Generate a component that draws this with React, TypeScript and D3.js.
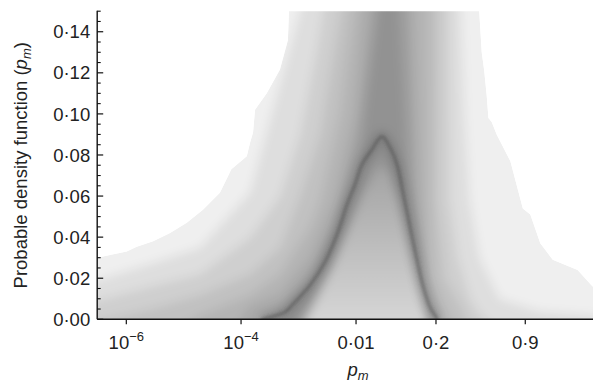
import React from 'react';
import * as d3 from 'd3';

// x tick positions (probabilities, logit axis) and labels
const xTickProbs = [1e-6, 1e-4, 0.01, 0.2, 0.9];
const xTickBase = ['10', '10', '0·01', '0·2', '0·9'];
const xTickExp = ['−6', '−4', '', '', ''];

// y ticks
const yMajorTicks = [0, 0.02, 0.04, 0.06, 0.08, 0.1, 0.12, 0.14];
const yMajorLabels = ['0·00', '0·02', '0·04', '0·06', '0·08', '0·10', '0·12', '0·14'];

// outer envelope of the density curves: [logit(p), density]
const envelope: [number, number][] = [
  [-16, -0.02], [-16, 0.029], [-15, 0.03], [-13.8, 0.033], [-13.4, 0.0353], [-12.74, 0.038],
  [-12.06, 0.042], [-11.39, 0.047], [-10.74, 0.0533], [-10.06, 0.0616], [-9.6, 0.073],
  [-8.98, 0.0794], [-8.85, 0.086], [-8.73, 0.091], [-8.65, 0.102], [-8.18, 0.11],
  [-7.65, 0.1216], [-7.33, 0.136], [-7.29, 0.15], [-7.27, 0.17],
  [0.33, 0.17], [0.35, 0.15], [0.45, 0.13], [0.55, 0.121], [0.65, 0.109], [0.72, 0.098],
  [0.85, 0.096], [1.05, 0.09], [1.6, 0.077], [2.1, 0.054], [2.4, 0.051], [2.8, 0.037],
  [3.3, 0.029], [4.3, 0.024], [4.9, 0.016], [5.5, 0.014], [5.5, -0.02],
];

// nested shading levels (upper boundaries), darker inside
const level1: [number, number][] = [
  [-16, 0.018], [-15, 0.019], [-12.87, 0.027], [-10.86, 0.035], [-8.85, 0.062], [-7.65, 0.115],
  [-6.85, 0.15], [-6.44, 0.17], [-0.43, 0.17], [-0.23, 0.1], [-0.03, 0.058], [0.37, 0.03],
  [1.17, 0.01], [2.78, 0.004], [4.9, 0.002], [5.5, 0.002],
];
const level2: [number, number][] = [
  [-16, 0.008], [-15, 0.009], [-12.87, 0.016], [-10.86, 0.022], [-8.85, 0.04], [-7.65, 0.06],
  [-6.85, 0.09], [-6.2, 0.13], [-5.64, 0.17], [-0.83, 0.17], [-0.8, 0.058], [-0.5, 0.03],
  [0.0, 0.01], [0.37, 0.003], [1.0, -0.005],
];
const level3: [number, number][] = [
  [-16, -0.004], [-15, -0.001], [-12.87, 0.005], [-10.86, 0.012], [-8.85, 0.022], [-7.65, 0.035],
  [-6.85, 0.06], [-6.04, 0.09], [-4.96, 0.17], [-1.23, 0.17], [-1.3, 0.058], [-1.0, 0.02],
  [-0.3, 0.005], [0.0, -0.005],
];
const level4: [number, number][] = [
  [-11.8, -0.005], [-10.86, 0.002], [-8.85, 0.012], [-7.65, 0.022], [-6.44, 0.045], [-6.04, 0.058],
  [-5.24, 0.1], [-4.52, 0.17], [-1.64, 0.17], [-1.64, 0.058], [-1.5, 0.02], [-1.0, 0.004],
  [-0.6, -0.005],
];
const level5: [number, number][] = [
  [-9.5, -0.005], [-8.85, 0.006], [-7.65, 0.012], [-6.44, 0.03], [-5.44, 0.058], [-4.64, 0.1],
  [-4.12, 0.17], [-2.32, 0.17], [-2.04, 0.058], [-1.8, 0.02], [-1.5, 0.004], [-1.1, -0.005],
];
const level6: [number, number][] = [
  [-8.7, -0.005], [-7.65, 0.006], [-6.44, 0.02], [-5.5, 0.045], [-4.5, 0.09], [-3.64, 0.17],
  [-2.64, 0.17], [-2.3, 0.07], [-1.9, 0.02], [-1.4, 0.002], [-1.2, -0.005],
];
const level7: [number, number][] = [
  [-8.2, -0.005], [-7.25, 0.005], [-6.2, 0.02], [-4.5, 0.07], [-3.5, 0.17], [-3.0, 0.17],
  [-2.5, 0.06], [-1.7, 0.005], [-1.4, -0.005],
];
const levels = [level1, level2, level3, level4, level5, level6, level7];

// lighter core below the modal ridge
const lightCore: [number, number][] = [
  [-6.9, -0.005], [-6.3, 0.008], [-5.6, 0.025], [-4.9, 0.045], [-4.3, 0.062], [-3.85, 0.072],
  [-3.56, 0.076], [-3.25, 0.071], [-2.85, 0.058], [-2.45, 0.038], [-2.1, 0.02], [-1.85, 0.008],
  [-1.6, -0.005],
];

// dark modal ridge curve
const ridgeL = [-8.4, -7.9, -7.45, -7.05, -6.44, -5.84, -5.32, -4.96, -4.64, -4.36, -3.96, -3.56,
  -3.23, -2.95, -2.71, -2.43, -2.15, -1.9, -1.63, -1.4, -1.3];
const ridgeD = [0.0, 0.0015, 0.0035, 0.0084, 0.0167, 0.028, 0.0426, 0.0558, 0.0656, 0.0753, 0.0826,
  0.089, 0.0836, 0.0753, 0.0616, 0.045, 0.0289, 0.0158, 0.006, 0.0015, 0.0];

const W = 593;
const H = 386;
const logit = (p: number) => Math.log(p / (1 - p));

export default function App() {
  const x = d3.scaleLinear().domain([-15, 5]).range([96.8, 595.1]);
  const y = d3.scaleLinear().domain([0, 0.15]).range([319.3, 11.2]);
  const plotL = 97.2;
  const plotT = 11.2;
  const plotB = 319.3;

  const polyLine = d3.line<[number, number]>().x((d) => x(d[0])).y((d) => y(d[1]));
  const levelArea = d3
    .area<[number, number]>()
    .x((d) => x(d[0]))
    .y0(y(-0.02))
    .y1((d) => y(d[1]));
  const ridgePts: [number, number][] = ridgeL.map((l, i) => [l, ridgeD[i]]);
  const ridgeLine = d3
    .line<[number, number]>()
    .x((d) => x(d[0]))
    .y((d) => y(d[1]))
    .curve(d3.curveCatmullRom.alpha(0.5));

  const minorTicks = d3.range(0, 0.1501, 0.005).filter(
    (v) => !yMajorTicks.some((m) => Math.abs(m - v) < 1e-6)
  );
  const font = '"Liberation Sans", Arial, Helvetica, sans-serif';
  const fs = 18.5;

  return (
    <svg width={W} height={H} style={{ display: 'block', position: 'absolute', left: 0, top: 0 }}>
      <defs>
        <clipPath id="plotClip">
          <rect x={plotL} y={plotT} width={W - plotL} height={plotB - plotT} />
        </clipPath>
        <clipPath id="envClip">
          <path d={polyLine(envelope) + 'Z'} />
        </clipPath>
        <filter id="blurLv" x="-20%" y="-20%" width="140%" height="140%">
          <feGaussianBlur stdDeviation="5" />
        </filter>
        <filter id="blurCore" x="-30%" y="-30%" width="160%" height="160%">
          <feGaussianBlur stdDeviation="5.5" />
        </filter>
        <filter id="blurRidge" x="-20%" y="-20%" width="140%" height="140%">
          <feGaussianBlur stdDeviation="1.7" />
        </filter>
        <filter id="blurHalo" x="-20%" y="-20%" width="140%" height="140%">
          <feGaussianBlur stdDeviation="4.5" />
        </filter>
        <linearGradient id="coreGrad" gradientUnits="userSpaceOnUse" x1="0" x2="0" y1={y(0)} y2={y(0.08)}>
          <stop offset="0" stopColor="#fff" stopOpacity={0.62} />
          <stop offset="1" stopColor="#fff" stopOpacity={0.12} />
        </linearGradient>
      </defs>

      <g clipPath="url(#plotClip)">
        <g clipPath="url(#envClip)">
          <path d={polyLine(envelope) + 'Z'} fill="#efefef" />
          <g filter="url(#blurLv)">
            {levels.map((lv, i) => (
              <path key={i} d={levelArea(lv) || ''} fill="#000" fillOpacity={0.07} />
            ))}
          </g>
          <path d={polyLine(lightCore) + 'Z'} fill="url(#coreGrad)" filter="url(#blurCore)" />
          <path d={ridgeLine(ridgePts) || ''} fill="none" stroke="#000" strokeOpacity={0.12}
            strokeWidth={12} filter="url(#blurHalo)" />
          <path d={ridgeLine(ridgePts) || ''} fill="none" stroke="#444" strokeOpacity={0.42}
            strokeWidth={3.5} filter="url(#blurRidge)" />
        </g>
      </g>

      {/* axes */}
      <line x1={plotL} x2={W} y1={plotB} y2={plotB} stroke="#111" strokeWidth={1.4} />
      <line x1={plotL} x2={plotL} y1={plotT - 0.5} y2={plotB} stroke="#111" strokeWidth={1.4} />
      {yMajorTicks.map((t, i) => (
        <g key={'ym' + i}>
          <line x1={plotL} x2={plotL + 6} y1={y(t)} y2={y(t)} stroke="#111" strokeWidth={1.2} />
          <text x={plotL - 7} y={y(t)} dy="0.36em" textAnchor="end" fontFamily={font} fontSize={fs} fill="#222">
            {yMajorLabels[i]}
          </text>
        </g>
      ))}
      {minorTicks.map((t, i) => (
        <line key={'yn' + i} x1={plotL} x2={plotL + 3.5} y1={y(t)} y2={y(t)} stroke="#111" strokeWidth={1.1} />
      ))}
      {xTickProbs.map((p, i) => (
        <g key={'xt' + i}>
          <line x1={x(logit(p))} x2={x(logit(p))} y1={plotB} y2={plotB + 5} stroke="#111" strokeWidth={1.2} />
          <text x={x(logit(p))} y={348.5} textAnchor="middle" fontFamily={font} fontSize={fs} fill="#222">
            {xTickBase[i]}
            {xTickExp[i] ? (
              <tspan dy={-8} fontSize={13}>
                {xTickExp[i]}
              </tspan>
            ) : null}
          </text>
        </g>
      ))}
      <text x={358} y={376} textAnchor="middle" fontFamily={font} fontSize={fs} fill="#222">
        <tspan fontStyle="italic">p</tspan>
        <tspan fontStyle="italic" fontSize={13} dy={4}>m</tspan>
      </text>
      <text
        transform={`translate(27,${(plotT + plotB) / 2}) rotate(-90)`}
        textAnchor="middle"
        fontFamily={font}
        fontSize={fs}
        fill="#222"
      >
        Probable density function (<tspan fontStyle="italic">p</tspan>
        <tspan fontStyle="italic" fontSize={13} dy={4}>m</tspan>
        <tspan dy={-4}>)</tspan>
      </text>
    </svg>
  );
}
